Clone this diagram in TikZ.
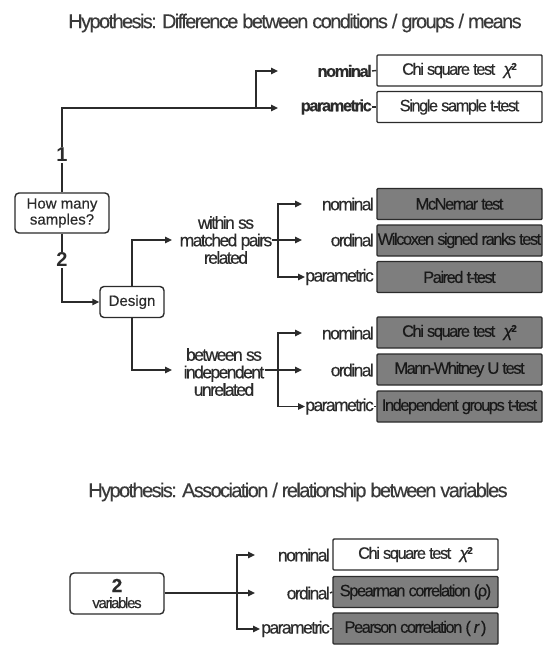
\documentclass[tikz,border=0pt]{standalone}
\usepackage{fontspec}
\setmainfont{Liberation Sans}
\newfontfamily\tightf[LetterSpace=-9, FakeBold=0.3]{Liberation Sans}
\newfontfamily\tightt[LetterSpace=-8, FakeBold=0.2]{Liberation Sans}
\newfontfamily\medf[FakeBold=0.3]{Liberation Sans}
\usetikzlibrary{arrows.meta}
\definecolor{ink}{HTML}{2B2B2B}
\definecolor{titleink}{HTML}{3A3A3A}
\definecolor{boxgray}{HTML}{7E7E7E}
\newcommand{\chisq}{\textit{χ}\raisebox{0.55ex}{\fontsize{10}{10}\selectfont\bfseries 2}}
\begin{document}
\begin{tikzpicture}[x=1pt,y=-1pt,
 line/.style={draw=ink, line width=1.4pt},
 arr/.style={line, -{Triangle[length=7pt,width=6.5pt]}},
 testbox/.style={draw=ink, line width=1.4pt, minimum width=165pt, minimum height=31pt, inner sep=0pt, font=\tightf\fontsize{16.5}{16.5}\selectfont, text=ink, rounded corners=1pt},
 whitebox/.style={testbox, fill=white},
 graybox/.style={testbox, fill=boxgray, text=black!90},
 lab/.style={anchor=east, inner sep=0pt, font=\tightf\fontsize{17.5}{17.5}\selectfont, text=ink},
 blab/.style={lab, font=\tightf\bfseries\fontsize{16.5}{16.5}\selectfont},
 mid/.style={align=center, inner sep=0pt, font=\tightf\fontsize{17.5}{17.5}\selectfont, text=ink},
 rbox/.style={draw=ink, line width=1.4pt, rounded corners=4pt, fill=white, align=center, text=ink, font=\medf\fontsize{15}{16}\selectfont, inner sep=0pt},
 num/.style={fill=white, inner sep=1pt, font=\bfseries\fontsize{20}{20}\selectfont, text=ink},
 title/.style={font=\tightt\fontsize{20}{20}\selectfont, text=titleink, inner sep=0pt}
 ]
\fill[white] (0,0) rectangle (558,660);
\useasboundingbox (0,0) rectangle (558,660);

% titles
\node[title] (t1) at (295,23) {Hypothesis: Difference between conditions / groups / means};
\node[title] (t2) at (298,492) {Hypothesis: Association / relationship between variables};

% top section
\node[whitebox] (chi1) at (459.5,70.5) {Chi square test\enspace\chisq};
\node[whitebox] (single) at (459.5,107) {Single sample t-test};
\node[blab] (n1) at (372,71) {nominal};
\node[blab] (p1) at (372,107) {parametric};
\draw[line] (n1.east) -- (chi1.west);
\draw[line] (p1.east) -- (single.west);

\node[rbox, minimum width=94pt, minimum height=40pt] (hm) at (62,213) {How many\\samples?};
\node[rbox, minimum width=64pt, minimum height=31pt] (des) at (132,302) {Design};

\coordinate (c1) at (62,108);
\coordinate (j1) at (256,108);
\coordinate (tipN1) at (278,71);
\coordinate (tipP1) at (278,108);
\draw[arr] (hm.north) -- (c1) -- (tipP1);
\draw[arr] (j1) |- (tipN1);

\coordinate (c2) at (62,302);
\draw[arr] (hm.south) -- (c2) -- (des.west);
\node[num] (one) at (62,155) {1};
\node[num] (two) at (62,260) {2};

% within
\node[mid] (within) at (226,240) {within ss\\matched pairs\\related};
\coordinate (wTip) at (172,240);
\draw[arr] (des.north) |- (wTip);
\coordinate (wbM) at (278,240);
\coordinate (wt1) at (302,204);
\coordinate (wt2) at (302,240);
\coordinate (wt3) at (305,277);
\draw[line] (within.east) -- (wbM);
\draw[arr] (wbM) |- (wt1);
\draw[arr] (wbM) -- (wt2);
\draw[arr] (wbM) |- (wt3);
\node[lab] (n2) at (374,204) {nominal};
\node[lab] (o2) at (374,240) {ordinal};
\node[lab] (p2) at (374,277) {parametric};
\node[graybox] (mcn) at (459.5,204) {McNemar test};
\node[graybox] (wil) at (459.5,240.5) {Wilcoxen signed ranks test};
\node[graybox] (pai) at (459.5,277) {Paired t-test};

% between
\node[mid] (between) at (224,372) {between ss\\independent\\unrelated};
\coordinate (bTip) at (172,370);
\draw[arr] (des.south) |- (bTip);
\coordinate (bbM) at (278,370);
\coordinate (bt1) at (302,333);
\coordinate (bt2) at (302,370);
\coordinate (bt3) at (305,406.5);
\draw[line] (between.east |- bbM) -- (bbM);
\draw[arr] (bbM) |- (bt1);
\draw[arr] (bbM) -- (bt2);
\draw[arr] (bbM) |- (bt3);
\node[lab] (n3) at (374,333) {nominal};
\node[lab] (o3) at (374,370) {ordinal};
\node[lab] (p3) at (374,406.5) {parametric};
\node[graybox] (chi3) at (459.5,332.5) {Chi square test\enspace\chisq};
\node[graybox] (mw) at (459.5,369.5) {Mann-Whitney U test};
\node[graybox] (ind) at (459.5,406.5) {Independent groups t-test};
\draw[line] (p3.east) -- (ind.west);

% bottom section
\node[rbox, minimum width=94pt, minimum height=41pt] (vars) at (117,593.5) {{\bfseries\fontsize{19}{19}\selectfont 2}\\[0pt]{\tightf\fontsize{15}{15}\selectfont variables}};
\coordinate (vb) at (237,593);
\coordinate (vt1) at (255,555);
\coordinate (vt2) at (255,593);
\coordinate (vt3) at (260,629);
\draw[line] (vars.east |- vb) -- (vb);
\draw[arr] (vb) |- (vt1);
\draw[arr] (vb) -- (vt2);
\draw[arr] (vb) |- (vt3);
\node[lab] (n4) at (330,555) {nominal};
\node[lab] (o4) at (330,593) {ordinal};
\node[lab] (p4) at (330,629) {parametric};
\node[whitebox] (chi4) at (415.5,554.5) {Chi square test\enspace\chisq};
\node[graybox] (spe) at (415.5,592) {Spearman correlation (ρ)};
\node[graybox] (pea) at (415.5,628.5) {Pearson correlation (\,\textit{r}\,)};
\draw[line] (o4.east) -- (spe.west);
\draw[line] (p4.east) -- (pea.west);
\end{tikzpicture}
\end{document}
